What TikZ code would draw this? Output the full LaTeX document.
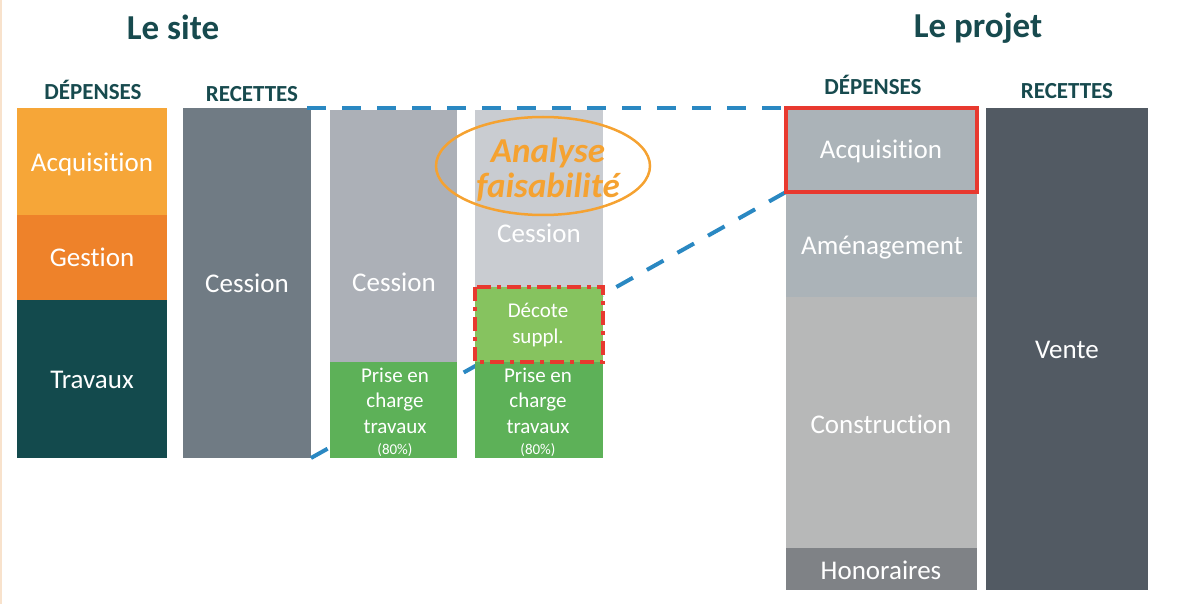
\documentclass[tikz,border=0pt]{standalone}
\usepackage{fontspec}
\setmainfont[Ligatures={NoCommon}]{Carlito}
\usetikzlibrary{shapes}
\usetikzlibrary{arrows}

\definecolor{headc}{HTML}{174A4E}
\definecolor{acqc}{HTML}{F6A638}
\definecolor{gesc}{HTML}{EE822A}
\definecolor{travc}{HTML}{134A4D}
\definecolor{cesc}{HTML}{707B84}
\definecolor{cesb}{HTML}{ACB0B7}
\definecolor{cesl}{HTML}{C9CCD1}
\definecolor{prisec}{HTML}{5DB158}
\definecolor{decc}{HTML}{86C35F}
\definecolor{redb}{HTML}{E8392F}
\definecolor{bluel}{HTML}{2A88C2}
\definecolor{orangee}{HTML}{F5A231}
\definecolor{amenc}{HTML}{ABB3B8}
\definecolor{consc}{HTML}{B7B8B8}
\definecolor{honc}{HTML}{7F8286}
\definecolor{ventec}{HTML}{525A63}
\definecolor{beige}{HTML}{F8E2CC}

\begin{document}
\begin{tikzpicture}[x=1pt,y=-1pt]
        \tikzstyle{bar} = [inner sep=0pt, outer sep=0pt, anchor=north west]
        \tikzstyle{txt} = [text=white, anchor=base, inner sep=0pt, font=\fontsize{27}{32}\selectfont]
        \tikzstyle{small} = [text=white, anchor=base, inner sep=0pt, align=center, font=\fontsize{21}{25.5}\selectfont]
        \tikzstyle{head} = [text=headc, anchor=base, inner sep=0pt, font=\bfseries\fontsize{23}{26}\selectfont]
        \tikzstyle{title} = [text=headc, anchor=base, inner sep=0pt, font=\bfseries\fontsize{35}{40}\selectfont]
        \tikzstyle{link} = [line width=4pt, draw=bluel, dash pattern=on 19pt off 16pt]
        \useasboundingbox (0,0) rectangle (1179,604);
        \fill[beige] (0,0) rectangle (2,604);
        % titres
        \node[title] (tsite) at (173,40) {Le site};
        \node[title] (tprojet) at (978,38) {Le projet};
        \node[head] (hdep) at (93,100) {DÉPENSES};
        \node[head] (hrec) at (252,102) {RECETTES};
        \node[head] (hdepR) at (873,95) {DÉPENSES};
        \node[head] (hrecR) at (1067,99) {RECETTES};
        % le site
        \node[bar, fill=acqc, minimum width=150, minimum height=107] (acq) at (17,108) {};
        \node[bar, fill=gesc, minimum width=150, minimum height=85] (ges) at (17,215) {};
        \node[bar, fill=travc, minimum width=150, minimum height=158] (trav) at (17,300) {};
        \node[bar, fill=cesc, minimum width=128, minimum height=350] (ces) at (183,108) {};
        % projet
        \node[bar, fill=amenc, minimum width=191, minimum height=84] (acqR) at (786,108) {};
        \node[bar, fill=amenc, minimum width=191, minimum height=105] (amen) at (786,192) {};
        \node[bar, fill=consc, minimum width=191, minimum height=251] (cons) at (786,297) {};
        \node[bar, fill=honc, minimum width=191, minimum height=42] (hon) at (786,548) {};
        \node[bar, fill=ventec, minimum width=162, minimum height=482] (vente) at (986,108) {};
        % liens
        \draw[link] (ces.south east) -- (acqR.south west);
        % analyse
        \node[bar, fill=cesb, minimum width=127, minimum height=252] (cesB) at (330,110) {};
        \node[bar, fill=prisec, minimum width=127, minimum height=96] (priseB) at (330,362) {};
        \node[bar, fill=cesl, minimum width=128, minimum height=177] (cesL) at (475,110) {};
        \node[bar, fill=decc, minimum width=128, minimum height=75] (dec) at (475,287) {};
        \node[bar, fill=prisec, minimum width=128, minimum height=96] (priseL) at (475,362) {};
        \draw[link] ([xshift=-4pt]ces.north east) -- (acqR.north west);
        \draw[redb, line width=3.5pt, dash pattern=on 14pt off 6pt on 4pt off 6pt] (dec.north west) rectangle (dec.south east);
        \draw[redb, line width=3.5pt] (acqR.north west) rectangle (acqR.south east);
        % textes
        \node[txt] (tacq) at (92,172) {Acquisition};
        \node[txt] (tges) at (92,267) {Gestion};
        \node[txt] (ttrav) at (92,388) {Travaux};
        \node[txt] (tces) at (247,293) {Cession};
        \node[txt] (tcesB) at (394,292) {Cession};
        \node[txt] (tcesL) at (539,243) {Cession};
        \node[small] (tpriseB) at (395,433) {Prise en\\charge\\travaux};
        \node[small] (tpriseL) at (538,433) {Prise en\\charge\\travaux};
        \node[small, font=\fontsize{15}{18}\selectfont] (tpctB) at (395,454) {(80\%)};
        \node[small, font=\fontsize{15}{18}\selectfont] (tpctL) at (538,454) {(80\%)};
        \node[small] (tdec) at (538,343) {Décote\\suppl.};
        \node[txt] (tacqR) at (881,159) {Acquisition};
        \node[txt] (tamen) at (882,255) {Aménagement};
        \node[txt] (tcons) at (881,433) {Construction};
        \node[txt] (thon) at (881,579) {Honoraires};
        \node[txt] (tvente) at (1067,359) {Vente};
        \node[draw=orangee, line width=2.5pt, ellipse, minimum width=214, minimum height=98] (ell) at (543,166) {};
        \node[anchor=base, inner sep=0pt, align=center, text=orangee, font=\bfseries\itshape\fontsize{35}{35}\selectfont] (tana) at (548,198) {Analyse\\faisabilité};
       \end{tikzpicture}
\end{document}
